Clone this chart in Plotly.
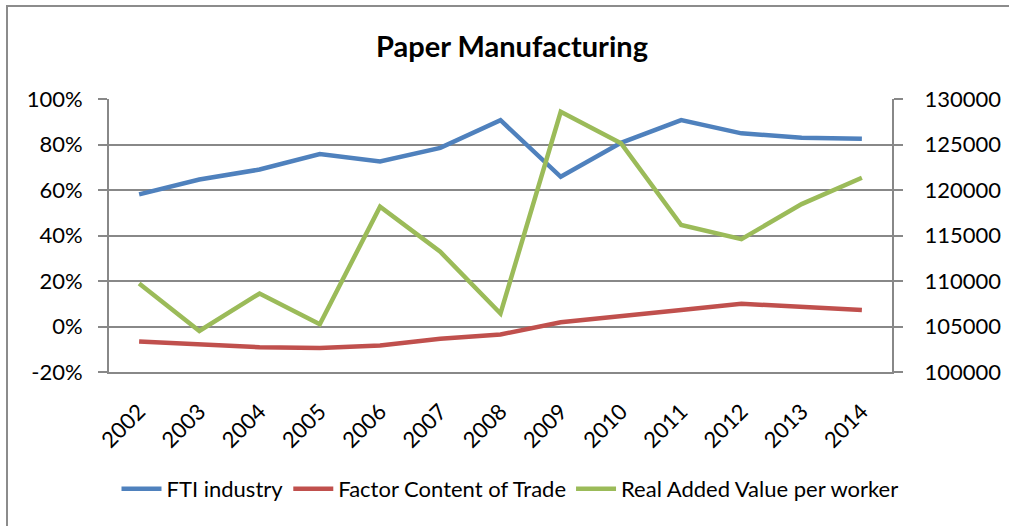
import plotly.graph_objects as go

# Chart data
years = ["2002", "2003", "2004", "2005", "2006", "2007", "2008",
         "2009", "2010", "2011", "2012", "2013", "2014"]
fti_industry = [0.581, 0.646, 0.690, 0.758, 0.725, 0.785, 0.907,
                0.658, 0.807, 0.907, 0.849, 0.830, 0.825]
factor_content = [-0.066, -0.079, -0.091, -0.094, -0.084, -0.054, -0.035,
                  0.019, 0.048, 0.073, 0.100, 0.088, 0.073]
real_added_value = [109730, 104510, 108630, 105250, 118170, 113210, 106430,
                    128600, 125150, 116150, 114600, 118450, 121350]

left_ticks = [-0.2, 0.0, 0.2, 0.4, 0.6, 0.8, 1.0]
left_labels = ["-20%", "0%", "20%", "40%", "60%", "80%", "100%"]
right_ticks = [100000, 105000, 110000, 115000, 120000, 125000, 130000]
right_labels = ["100000", "105000", "110000", "115000", "120000", "125000", "130000"]

FONT = "Lato, 'Open Sans', Arial, sans-serif"
GRID = "#888888"
W, H = 1009, 526
M = dict(l=109, r=117, t=99, b=154)

fig = go.Figure()
fig.add_trace(go.Scatter(x=years, y=fti_industry, name="FTI industry",
                         mode="lines", line=dict(color="#4F81BD", width=4.5)))
fig.add_trace(go.Scatter(x=years, y=factor_content, name="Factor Content of Trade",
                         mode="lines", line=dict(color="#C0504D", width=4.5)))
fig.add_trace(go.Scatter(x=years, y=real_added_value, name="Real Added Value per worker",
                         mode="lines", line=dict(color="#9BBB59", width=4.5),
                         yaxis="y2"))

# outer chart frame (pixel positions converted to paper coordinates)
pw = W - M["l"] - M["r"]
ph = H - M["t"] - M["b"]
def px_x(p):
    return (p - M["l"]) / pw
def px_y(p):
    return (H - M["b"] - p) / ph

fig.add_shape(type="rect", xref="paper", yref="paper",
              x0=px_x(7), x1=px_x(1015), y0=px_y(6), y1=px_y(540),
              line=dict(color="#8c8c8c", width=2), layer="below")

fig.update_layout(
    width=W, height=H,
    margin=dict(M, autoexpand=False),
    paper_bgcolor="white", plot_bgcolor="white",
    font=dict(family=FONT, size=22, color="black"),
    title=dict(text="<b>Paper Manufacturing</b>", x=px_x(512), xref="paper",
               xanchor="center", y=1 - 47 / H, yanchor="middle",
               font=dict(size=29, family=FONT, color="black")),
    showlegend=True,
    legend=dict(orientation="h", xref="container", x=510 / W, xanchor="center",
                yref="container", y=1 - 489 / H, yanchor="middle",
                font=dict(size=22), itemwidth=40, bgcolor="rgba(0,0,0,0)",
                tracegroupgap=0),
    xaxis=dict(type="category", tickangle=-45, showgrid=False,
               showline=True, linecolor=GRID, linewidth=2, automargin=False,
               ticks="", tickfont=dict(size=22), ticklabelstandoff=16,
               range=[-0.5, len(years) - 0.5]),
    yaxis=dict(range=[-0.2, 1.0], tickvals=left_ticks, ticktext=left_labels,
               showgrid=True, gridcolor=GRID, gridwidth=2, automargin=False,
               showline=True, linecolor=GRID, linewidth=2,
               ticks="outside", ticklen=9, tickcolor=GRID, tickwidth=2,
               zeroline=False, tickfont=dict(size=22), ticklabelstandoff=11),
    yaxis2=dict(range=[100000, 130000], tickvals=right_ticks, ticktext=right_labels,
                overlaying="y", side="right", showgrid=False, showline=True,
                linecolor=GRID, linewidth=2, ticks="outside", ticklen=9,
                tickcolor=GRID, tickwidth=2, zeroline=False, automargin=False,
                tickfont=dict(size=22), ticklabelstandoff=17),
)

fig.write_html("out.html")
